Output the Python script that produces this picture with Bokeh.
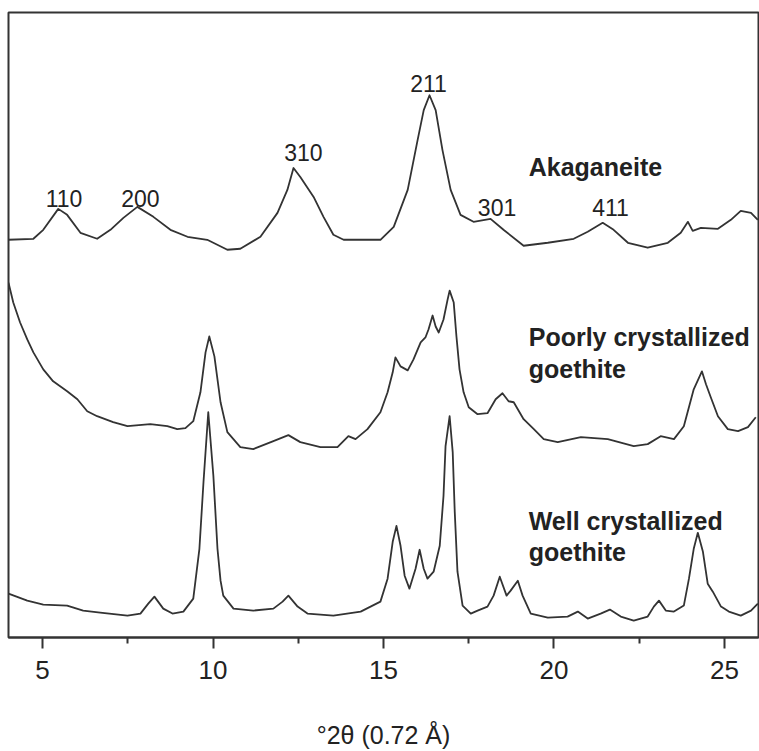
from bokeh.plotting import figure
from bokeh.models import Range1d, FixedTicker
from bokeh.core.properties import value
from bokeh.embed import file_html
from bokeh.resources import INLINE

# ---- data (2theta in degrees, intensity in arbitrary units, traces offset) ----
akag_2theta = [4.00, 4.73, 5.02, 5.46, 5.72, 6.11, 6.60, 6.99, 7.37, 7.78, 8.25, 8.75, 9.25, 9.83,
               10.42, 10.80, 11.39, 11.89, 12.18, 12.36, 12.56, 12.95, 13.24, 13.53, 13.83, 14.91,
               15.30, 15.71, 16.00, 16.18, 16.35, 16.53, 16.73, 16.97, 17.26, 17.64, 18.14, 18.52,
               19.11, 19.82, 20.58, 20.99, 21.43, 21.75, 22.17, 22.75, 23.34, 23.72, 23.93, 24.07,
               24.31, 24.81, 25.19, 25.48, 25.78, 25.98]
akag_int = [399, 400, 409, 430, 424, 406, 400, 409, 421, 432, 422, 409, 402, 399,
            389, 390, 402, 426, 449, 471, 462, 442, 422, 404, 399, 399,
            412, 449, 499, 529, 544, 529, 489, 449, 424, 417, 420, 409,
            393, 396, 400, 407, 416, 409, 396, 391, 396, 406, 417, 408,
            411, 410, 419, 428, 426, 419]

poor_2theta = [4.00, 4.14, 4.34, 4.55, 4.73, 5.02, 5.31, 5.72, 6.02, 6.31, 6.60, 7.07, 7.49, 8.16,
               8.66, 8.95, 9.19, 9.42, 9.63, 9.78, 9.89, 10.04, 10.22, 10.42, 10.80, 11.18, 11.77,
               12.21, 12.56, 13.15, 13.65, 13.97, 14.18, 14.53, 14.91, 15.12, 15.27, 15.35, 15.50,
               15.71, 15.88, 16.09, 16.23, 16.32, 16.44, 16.53, 16.62, 16.76, 16.88, 16.94, 17.06,
               17.14, 17.23, 17.35, 17.50, 17.76, 18.05, 18.29, 18.49,
               18.67, 18.82, 19.11, 19.41, 19.70, 20.11, 20.79, 21.58, 22.34, 22.75, 23.13, 23.52,
               23.81, 24.10, 24.34, 24.46, 24.60, 24.81, 25.10, 25.40, 25.69, 25.92]
poor_int = [356, 336, 316, 299, 286, 269, 257, 247, 239, 227, 222, 216, 212, 214,
            212, 209, 210, 217, 246, 286, 302, 282, 236, 206, 191, 189, 197,
            203, 196, 191, 191, 202, 199, 209, 226, 246, 266, 281, 272,
            268, 279, 296, 301, 309, 323, 312, 306, 319, 339, 348, 336,
            302, 269, 246, 231, 224, 225, 239, 245,
            237, 236, 219, 209, 199, 196, 201, 199, 192, 194, 202, 199,
            212, 249, 267, 254, 241, 222, 209, 207, 211, 221]

well_2theta = [4.00, 4.55, 5.02, 5.72, 6.19, 6.69, 7.49, 7.87, 8.10, 8.28, 8.54, 8.81, 9.13, 9.42,
               9.60, 9.72, 9.86, 10.01, 10.13, 10.22, 10.30, 10.60, 11.18, 11.77, 12.04, 12.21, 12.48,
               12.77, 13.53, 14.33, 14.91, 15.12, 15.27, 15.38, 15.50, 15.62, 15.76, 15.94, 16.06,
               16.18, 16.29, 16.47, 16.65, 16.76, 16.82, 16.94, 17.03, 17.09, 17.17, 17.32, 17.56,
               17.76, 18.05, 18.23, 18.41, 18.61,
               18.73, 18.94, 19.08, 19.32, 19.82, 20.40, 20.70, 20.99, 21.37, 21.64, 21.96, 22.34,
               22.75, 22.93, 23.08, 23.28, 23.52, 23.81, 23.96, 24.10, 24.22, 24.37, 24.51, 24.66,
               24.90, 25.13, 25.48, 25.78, 25.98]
well_int = [44, 37, 33, 32, 27, 25, 22, 24, 34, 41, 29, 24, 26, 39,
            89, 156, 226, 162, 89, 57, 42, 29, 27, 29, 36, 42, 31,
            24, 22, 26, 36, 59, 96, 112, 92, 62, 49, 69, 88,
            69, 59, 66, 92, 142, 192, 222, 186, 126, 66, 32, 24,
            27, 31, 42, 61, 42,
            47, 57, 42, 24, 20, 21, 26, 19, 24, 28, 21, 17,
            21, 31, 37, 27, 26, 32, 59, 89, 105, 86, 54, 46,
            31, 26, 22, 27, 34]

peak_labels = ["110", "200", "310", "211", "301", "411"]
peak_x = [5.63, 7.87, 12.65, 16.32, 18.33, 21.66]
peak_y = [440, 440, 487, 556, 431, 431]

sample_labels = ["Akaganeite", "Poorly crystallized", "goethite", "Well crystallized", "goethite"]
sample_x = [19.26, 19.26, 19.26, 19.26, 19.26]
sample_y = [472, 301, 269, 117, 86]

x_ticks = [5, 10, 15, 20, 25]
x_minor_ticks = [7.5, 12.5, 17.5, 22.5]
x_label = "°2θ (0.72 Å)"

INK = "#333333"
FONT = "Liberation Sans"

p = figure(width=759, height=751, output_backend="svg", toolbar_location=None,
           x_range=Range1d(4, 26), y_range=Range1d(0, 627))
p.min_border_left = 8
p.min_border_right = 1
p.min_border_top = 12
p.min_border_bottom = 112
p.background_fill_color = "white"
p.border_fill_color = "white"
p.outline_line_color = INK
p.outline_line_width = 2
p.xgrid.visible = False
p.ygrid.visible = False
p.yaxis.visible = False

for xs, ys in [(akag_2theta, akag_int), (poor_2theta, poor_int), (well_2theta, well_int)]:
    p.line(xs, ys, line_color=INK, line_width=1.8, line_join="round")

p.text(x=peak_x, y=peak_y, text=peak_labels, text_font=value(FONT),
       text_font_size="23px", text_color="#222222", text_align="center",
       text_baseline="alphabetic")

p.text(x=sample_x, y=sample_y, text=sample_labels, text_font=value(FONT),
       text_font_size="25px", text_font_style="bold", text_color="#222222",
       text_align="left", text_baseline="alphabetic")

ax = p.xaxis[0]
ax.ticker = FixedTicker(ticks=x_ticks, minor_ticks=x_minor_ticks)
ax.axis_label = x_label
ax.axis_label_text_font = FONT
ax.axis_label_text_font_size = "25px"
ax.axis_label_text_font_style = "normal"
ax.axis_label_text_color = "#222222"
ax.axis_label_standoff = 39
ax.major_label_text_font = FONT
ax.major_label_text_font_size = "26px"
ax.major_label_text_color = "#222222"
ax.major_label_standoff = 12
ax.axis_line_color = INK
ax.axis_line_width = 2
ax.major_tick_line_color = INK
ax.major_tick_line_width = 2
ax.major_tick_in = 0
ax.major_tick_out = 11
ax.minor_tick_line_color = INK
ax.minor_tick_line_width = 2
ax.minor_tick_in = 0
ax.minor_tick_out = 6

open("out.html", "w").write(file_html(p, INLINE))
